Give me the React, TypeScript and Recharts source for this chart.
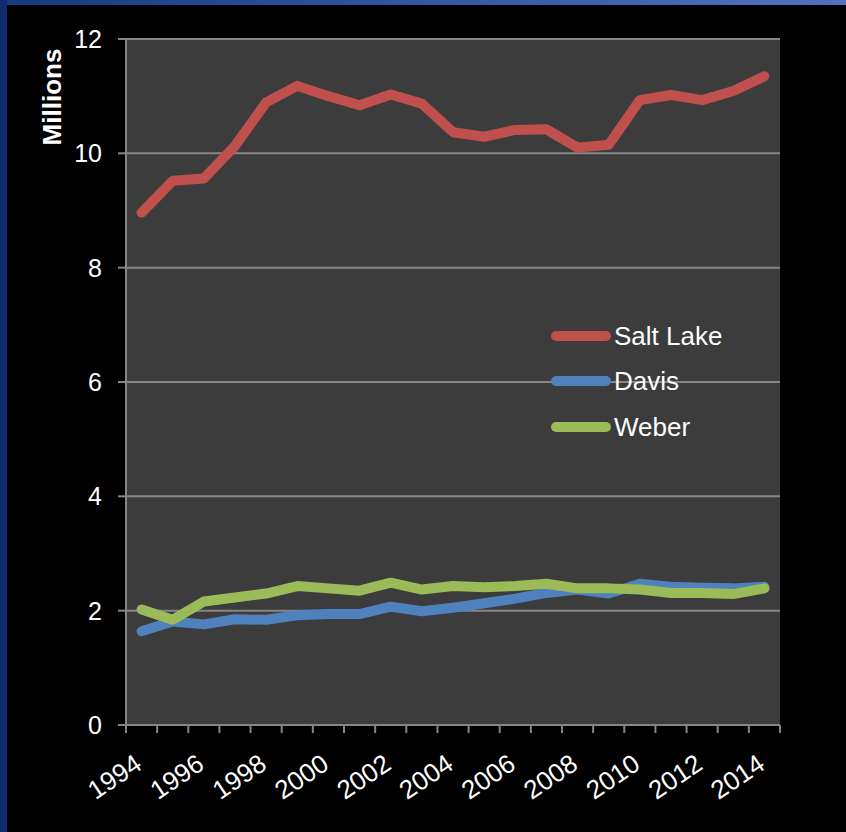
import {LineChart, Line, XAxis, YAxis, CartesianGrid, Legend} from 'recharts';

import type {ReactElement} from 'react';

const years = [1994, 1995, 1996, 1997, 1998, 1999, 2000, 2001, 2002, 2003, 2004, 2005, 2006, 2007, 2008, 2009, 2010, 2011, 2012, 2013, 2014];
const saltLake = [8.96, 9.52, 9.56, 10.13, 10.89, 11.18, 11.0, 10.84, 11.03, 10.87, 10.37, 10.29, 10.41, 10.42, 10.1, 10.15, 10.93, 11.02, 10.93, 11.09, 11.35];
const davis = [1.64, 1.81, 1.76, 1.85, 1.84, 1.92, 1.94, 1.94, 2.07, 1.99, 2.05, 2.13, 2.21, 2.31, 2.37, 2.3, 2.47, 2.42, 2.4, 2.39, 2.42];
const weber = [2.02, 1.84, 2.16, 2.23, 2.3, 2.43, 2.39, 2.35, 2.49, 2.37, 2.43, 2.41, 2.43, 2.47, 2.39, 2.39, 2.37, 2.31, 2.31, 2.29, 2.39];
const labelYears = [1994, 1996, 1998, 2000, 2002, 2004, 2006, 2008, 2010, 2012, 2014];
const yTicks = [0, 2, 4, 6, 8, 10, 12];

const series = [
	{key: 'saltLake', name: 'Salt Lake', color: '#C0504D'},
	{key: 'davis', name: 'Davis', color: '#4F81BD'},
	{key: 'weber', name: 'Weber', color: '#9BBB59'}
];

const data = years.map((year, i) => ({year, saltLake: saltLake[i], davis: davis[i], weber: weber[i]}));

// tick marks sit between the years, Excel style
const yearBounds = [...years.map((y) => y - 0.5), years[years.length - 1] + 0.5];

const FONT = '"Liberation Sans", Arial, sans-serif';
const AXIS_GRAY = '#868686';

function YearTick({x, y, payload}: any): ReactElement {
	const tx = x + 2;
	const ty = y + 42;
	return (
		<text
			x={tx}
			y={ty}
			transform={`rotate(-34, ${tx}, ${ty})`}
			textAnchor={'end'}
			fill={'#fff'}
			fontSize={26}
			fontFamily={FONT}>
			{payload.value}
		</text>
	);
}

function SeriesLegend({payload}: any): ReactElement {
	// keep the series order instead of the alphabetical one
	const order = (name: string) => series.findIndex((s) => s.name === name);
	const items = [...(payload || [])].sort((a: any, b: any) => order(a.value) - order(b.value));
	return (
		<div style={{fontFamily: FONT}}>
			{items.map((item: any) => (
				<div key={item.value} style={{display: 'flex', alignItems: 'center', height: 45.5}}>
					<div style={{width: 60, height: 10, borderRadius: 5, background: item.color}} />
					<span style={{marginLeft: 3, color: '#fff', fontSize: 26, lineHeight: 1}}>{item.value}</span>
				</div>
			))}
		</div>
	);
}

export default function App(): ReactElement {
	return (
		<div style={{position: 'absolute', left: 0, top: 0, width: 846, height: 832, background: '#000', overflow: 'hidden'}}>
			<div style={{position: 'absolute', left: 0, top: 0, width: 846, height: 5, background: 'linear-gradient(to right, #163a80, #5272c0)'}} />
			<div style={{position: 'absolute', left: 0, top: 0, width: 7, height: 832, background: '#0e2b6b'}} />
			<LineChart width={846} height={832} data={data} margin={{top: 39, right: 66, left: 0, bottom: 105}}>
				<CartesianGrid vertical={false} fill={'#3c3c3c'} stroke={AXIS_GRAY} strokeWidth={2} />
				<XAxis
					xAxisId={'bounds'}
					type={'number'}
					dataKey={'year'}
					domain={[1993.5, 2014.5]}
					ticks={yearBounds}
					interval={0}
					height={1}
					tick={() => <g />}
					tickSize={8}
					tickLine={{stroke: AXIS_GRAY, strokeWidth: 2}}
					axisLine={{stroke: AXIS_GRAY, strokeWidth: 2}}
				/>
				<XAxis
					xAxisId={'year'}
					type={'number'}
					dataKey={'year'}
					domain={[1993.5, 2014.5]}
					ticks={labelYears}
					interval={0}
					height={1}
					tickSize={0}
					tickMargin={0}
					tickLine={false}
					axisLine={false}
					tick={<YearTick />}
				/>
				<YAxis
					domain={[0, 12]}
					ticks={yTicks}
					interval={0}
					width={126}
					tickSize={8}
					tickMargin={16}
					tick={{fill: '#fff', fontSize: 25, fontFamily: FONT}}
					tickLine={{stroke: AXIS_GRAY, strokeWidth: 2}}
					axisLine={{stroke: AXIS_GRAY, strokeWidth: 2}}
					label={{
						content: () => (
							<text
								x={61}
								y={97}
								transform={'rotate(-90, 61, 97)'}
								textAnchor={'middle'}
								fill={'#fff'}
								fontSize={26}
								fontWeight={'bold'}
								fontFamily={FONT}>
								{'Millions'}
							</text>
						)
					}}
				/>
				<Legend
					layout={'vertical'}
					align={'center'}
					verticalAlign={'middle'}
					content={<SeriesLegend />}
					wrapperStyle={{left: 551, top: 313, width: 200}}
				/>
				{series.map((s) => (
					<Line
						key={s.key}
						xAxisId={'year'}
						type={'linear'}
						dataKey={s.key}
						name={s.name}
						stroke={s.color}
						strokeWidth={10}
						strokeLinecap={'round'}
						strokeLinejoin={'round'}
						dot={false}
						activeDot={false}
						isAnimationActive={false}
					/>
				))}
			</LineChart>
		</div>
	);
}
